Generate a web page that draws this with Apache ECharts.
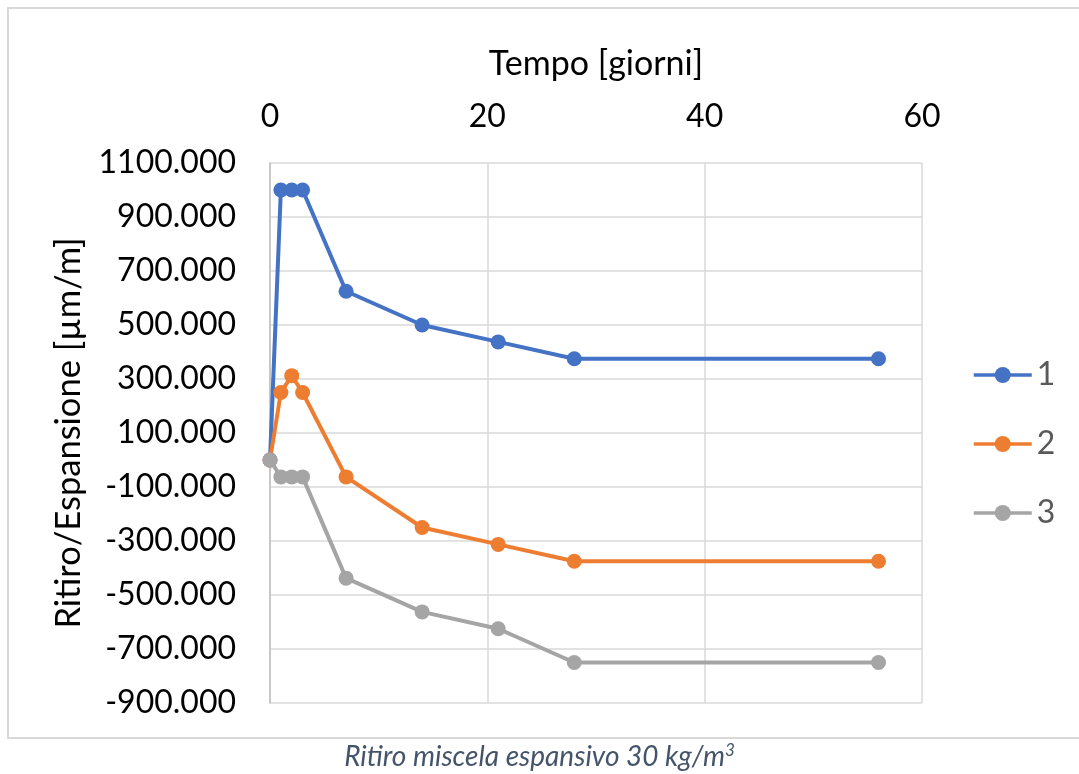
<!DOCTYPE html>
<html>
<head>
<meta charset="utf-8">
<title>Ritiro miscela espansivo 30 kg/m3</title>
<script src="https://cdn.jsdelivr.net/npm/echarts@6/dist/echarts.min.js"></script>
<style>
  html, body { margin: 0; padding: 0; background: #ffffff; }
  #chart { width: 1079px; height: 774px; }
</style>
</head>
<body>
<div id="chart"></div>
<script>
// Giorni di misura (asse x) e deformazioni in µm/m per le tre serie
const days = [0, 1, 2, 3, 7, 14, 21, 28, 56];
const serie1 = [0, 1000, 1000, 1000, 625, 500, 437.5, 375, 375];
const serie2 = [0, 250, 312.5, 250, -62.5, -250, -312.5, -375, -375];
const serie3 = [0, -62.5, -62.5, -62.5, -437.5, -562.5, -625, -750, -750];
const seriesNames = ['1', '2', '3'];
const seriesColors = ['#4472c4', '#ed7d31', '#a5a5a5'];

const xTitle = 'Tempo [giorni]';
const yTitle = 'Ritiro/Espansione [µm/m]';

const FONT = 'Lato, "Open Sans", sans-serif';

function pairs(xs, ys) {
  return xs.map((x, i) => [x, ys[i]]);
}

const allValues = [serie1, serie2, serie3];

const chart = echarts.init(document.getElementById('chart'), null, { renderer: 'canvas' });

chart.setOption({
  backgroundColor: '#ffffff',
  animation: false,
  grid: { left: 270, right: 157, top: 163, bottom: 71, containLabel: false },
  xAxis: {
    type: 'value',
    position: 'top',
    min: 0,
    max: 60,
    interval: 20,
    name: xTitle,
    nameLocation: 'middle',
    nameGap: 82,
    nameTextStyle: { fontFamily: FONT, fontSize: 34, color: '#000000' },
    axisLine: { show: false },
    axisTick: { show: false },
    axisLabel: { fontFamily: FONT, fontSize: 32, color: '#000000', margin: 30 },
    splitLine: { show: true, lineStyle: { color: '#d9d9d9', width: 1.5 } }
  },
  yAxis: {
    type: 'value',
    min: -900,
    max: 1100,
    interval: 200,
    name: yTitle,
    nameLocation: 'middle',
    nameGap: 184,
    nameTextStyle: { fontFamily: FONT, fontSize: 34.5, color: '#000000' },
    axisLine: { show: true, onZero: false, lineStyle: { color: '#bfbfbf', width: 1.5 } },
    axisTick: { show: false },
    axisLabel: {
      fontFamily: FONT, fontSize: 32, color: '#000000', margin: 34,
      formatter: v => v.toFixed(3)
    },
    splitLine: { show: true, lineStyle: { color: '#d9d9d9', width: 1.5 } }
  },
  legend: {
    orient: 'vertical',
    left: 967,
    top: 354,
    itemWidth: 58,
    itemHeight: 20,
    itemGap: 37,
    lineStyle: { width: 3.5 },
    textStyle: { fontFamily: FONT, fontSize: 32, color: '#595959', lineHeight: 32 },
    data: seriesNames
  },
  series: allValues.map((vals, i) => ({
    name: seriesNames[i],
    type: 'line',
    data: pairs(days, vals),
    symbol: 'circle',
    symbolSize: 15,
    showSymbol: true,
    lineStyle: { color: seriesColors[i], width: 4 },
    itemStyle: { color: seriesColors[i] },
    z: 2 + i
  })),
  graphic: [
    {
      type: 'rect',
      shape: { x: 8, y: 8, width: 1090, height: 730 },
      style: { fill: 'none', stroke: '#d9d9d9', lineWidth: 2 },
      silent: true,
      z: -1
    },
    {
      type: 'text',
      left: 'center',
      top: 742,
      style: {
        text: '{t|Ritiro miscela espansivo 30 kg/m}{s|3}',
        rich: {
          t: { fontFamily: FONT, fontStyle: 'italic', fontSize: 28, fill: '#44546a', color: '#44546a' },
          s: { fontFamily: FONT, fontStyle: 'italic', fontSize: 17, fill: '#44546a', color: '#44546a', verticalAlign: 'top', padding: [0, 0, 12, 0] }
        }
      }
    }
  ]
});
</script>
</body>
</html>
